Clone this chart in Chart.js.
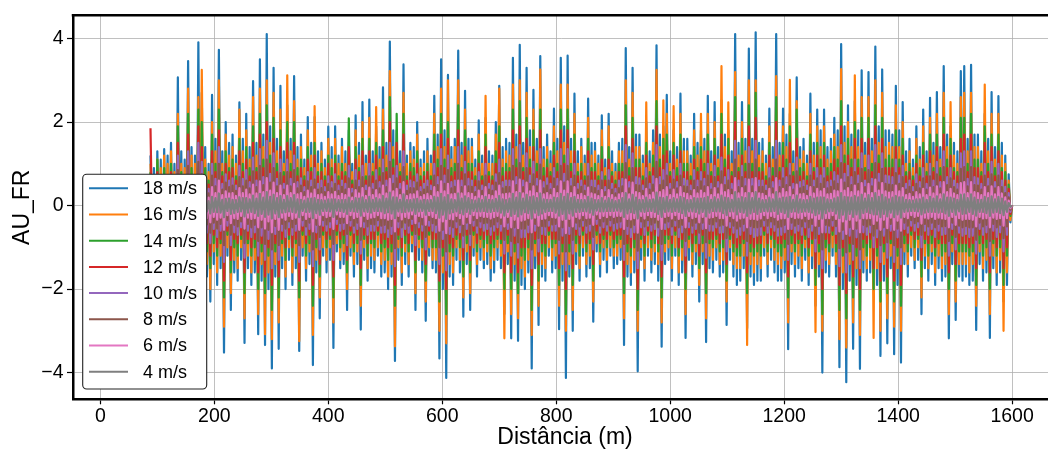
<!DOCTYPE html>
<html>
<head>
<meta charset="utf-8">
<script src="https://cdn.jsdelivr.net/npm/chart.js@4.4.1/dist/chart.umd.min.js"></script>
<style>
  html, body { margin: 0; padding: 0; background: #fff; overflow: hidden; }
  #wrap { width: 1048px; height: 454px; position: relative; }
</style>
</head>
<body>
<div id="wrap"><canvas id="chart" width="1048" height="454"></canvas></div>
<script>
// Sampling grid along the track (m): first sample and spacing
const DIST_START_M = 88;
const DIST_STEP_M = 3;

const SPEED_LABELS = ['18 m/s', '16 m/s', '14 m/s', '12 m/s', '10 m/s', '8 m/s', '6 m/s', '4 m/s'];
const SPEED_COLORS = ['#1f77b4', '#ff7f0e', '#2ca02c', '#d62728', '#9467bd', '#8c564b', '#e377c2', '#7f7f7f'];

const X_TICKS = [0, 200, 400, 600, 800, 1000, 1200, 1400, 1600];
const Y_TICKS = [-4, -2, 0, 2, 4];

// AU_FR response per speed, one value per sample
const AU_18 = [
1.2,-1.1,0.9,-1.4,1.3,-1.2,1.1,-1.6,1.35,-1.0,1.2,-1.5,1.5,-1.3,1.0,-1.7,3.07,-1.4,1.3,-1.8,
1.1,-1.6,3.46,-1.2,1.4,-1.5,1.2,-1.9,3.91,-1.6,2.7,-1.3,1.4,-1.7,1.0,-2.3,2.65,-1.4,1.6,-1.9,
3.73,-1.5,1.3,-3.52,2.0,-1.2,1.5,-2.5,1.7,-1.6,1.2,-1.8,2.47,-1.3,1.6,-3.29,2.2,-1.5,1.4,-1.9,
2.98,-1.6,1.5,-3.08,3.5,-1.8,1.7,-3.34,4.11,-2.0,1.9,-3.9,3.3,-1.7,1.6,-3.43,2.87,-1.5,1.3,-2.0,
2.4,-1.3,1.6,-1.9,3.1,-1.5,1.4,-3.48,1.7,-1.2,1.1,-1.8,2.12,-1.4,1.5,-3.82,2.12,-1.6,1.3,-2.7,
1.5,-1.2,1.1,-1.6,1.89,-1.3,1.4,-3.41,1.9,-1.1,1.2,-1.5,1.6,-1.4,1.3,-2.5,1.8,-1.2,1.0,-1.7,
2.16,-1.4,1.5,-2.97,2.48,-1.3,1.2,-1.8,2.54,-1.5,1.3,-1.6,1.9,-1.2,1.4,-1.7,2.83,-1.6,1.5,-2.0,
3.93,-1.7,1.8,-3.72,1.8,-1.3,1.3,-1.9,3.38,-1.4,1.2,-1.7,1.5,-1.1,1.4,-2.5,2.0,-1.3,1.1,-1.6,
1.3,-2.76,1.6,-1.2,1.2,-1.5,2.63,-1.6,1.7,-3.66,3.5,-2.0,1.8,-4.13,3.13,-1.7,1.4,-1.9,1.6,-1.3,
3.71,-1.6,1.5,-2.66,2.75,-1.4,1.6,-2.5,1.6,-1.2,1.1,-1.7,2.04,-1.3,1.2,-1.5,2.1,-1.4,1.3,-1.8,
1.2,-1.6,2.0,-1.3,2.87,-1.5,1.4,-2.6,1.6,-1.4,1.5,-3.18,3.54,-1.8,1.7,-3.24,3.85,-1.9,1.5,-2.0,
3.3,-1.6,1.8,-3.9,2.77,-1.5,1.6,-2.86,3.58,-1.7,1.4,-1.8,1.7,-1.2,1.3,-1.6,2.32,-1.5,1.6,-2.96,
3.54,-1.8,1.9,-4.13,3.59,-1.7,1.6,-3.0,2.68,-1.4,1.3,-1.8,1.6,-1.2,1.2,-1.7,2.56,-1.5,1.5,-2.78,
1.5,-1.1,1.2,-1.7,2.16,-1.3,1.1,-1.6,2.2,-1.2,1.3,-1.5,1.0,-1.4,1.5,-1.3,1.6,-3.34,3.77,-1.7,
1.4,-1.9,3.3,-1.6,1.7,-3.97,1.7,-1.3,1.2,-1.8,2.0,-1.2,1.3,-1.6,1.8,-1.4,3.84,-1.8,1.7,-3.38,
1.9,-1.4,2.65,-1.3,1.3,-1.8,1.8,-1.2,1.4,-1.9,2.68,-1.6,1.6,-3.17,1.6,-1.3,1.2,-1.7,2.2,-1.4,
1.5,-2.3,1.8,-1.4,1.6,-3.27,2.63,-1.5,1.3,-1.6,2.48,-1.3,1.4,-1.7,2.52,-1.6,1.7,-2.86,1.8,-1.3,
1.3,-1.7,4.11,-1.9,1.5,-1.8,2.48,-1.5,1.6,-2.94,3.76,-1.7,1.6,-1.9,4.15,-1.8,1.5,-1.8,1.6,-1.2,
1.2,-1.7,2.32,-1.3,1.4,-1.6,4.11,-1.8,1.5,-1.8,2.32,-1.6,1.7,-3.44,2.2,-1.4,1.3,-1.7,3.07,-1.5,
1.4,-1.8,1.6,-1.3,1.2,-1.9,2.68,-1.5,1.5,-2.4,2.3,-1.7,1.8,-4.0,2.3,-1.6,1.4,-1.7,1.6,-1.2,
2.1,-1.7,1.8,-3.87,3.87,-2.0,1.9,-4.23,2.4,-1.8,1.7,-3.43,2.5,-1.9,1.8,-3.91,3.24,-1.6,1.5,-1.8,
3.2,-1.6,1.6,-1.9,3.81,-1.9,1.9,-3.6,3.26,-1.8,1.8,-3.3,1.8,-1.5,1.7,-3.56,2.87,-1.9,1.8,-3.76,
2.48,-1.4,1.3,-1.7,1.6,-1.2,1.1,-1.5,1.9,-1.3,1.4,-2.6,2.3,-1.5,1.3,-1.8,2.58,-1.4,1.5,-1.9,
2.72,-1.5,1.4,-1.8,3.34,-1.7,1.7,-3.18,1.9,-1.4,1.5,-2.74,1.3,-1.7,3.22,-1.8,3.34,-1.7,1.6,-1.9,
3.37,-1.8,1.7,-2.98,1.7,-1.4,1.3,-1.8,2.2,-1.6,1.6,-3.17,2.72,-1.5,1.4,-1.9,2.62,-1.6,1.5,-2.3,
1.2,-1.9,0.75,-0.4,0
];

const AU_16 = [
1.0,-0.9,0.7,-1.2,1.1,-1.0,0.9,-1.3,1.2,-0.8,1.0,-1.2,1.3,-1.0,0.8,-1.4,2.2,-1.1,1.0,-1.5,
0.9,-1.3,2.8,-1.0,1.2,-1.2,1.0,-1.5,2.6,-1.3,3.25,-1.0,1.1,-1.4,0.8,-2.0,2.0,-1.1,1.3,-1.6,
3.0,-1.2,1.0,-2.9,1.7,-1.0,1.2,-2.1,1.4,-1.3,1.0,-1.5,2.3,-1.0,1.3,-2.7,1.8,-1.2,1.1,-1.6,
2.6,-1.3,1.2,-2.6,2.8,-1.4,1.4,-3.08,3.0,-1.6,1.5,-3.2,2.7,-1.4,1.3,-2.8,2.3,-1.2,1.0,-1.7,
3.12,-1.0,1.3,-1.6,2.5,-1.2,1.1,-3.25,1.4,-1.0,0.9,-1.5,1.8,-1.1,1.2,-3.1,2.38,-1.3,1.0,-2.2,
1.3,-1.0,0.9,-1.3,1.6,-1.0,1.1,-2.8,1.6,-0.9,1.0,-1.3,1.4,-1.1,1.0,-2.0,1.5,-1.0,0.8,-1.4,
1.8,-1.1,1.2,-2.4,2.0,-1.0,1.0,-1.5,2.1,-1.2,1.0,-1.3,2.36,-1.0,1.1,-1.4,2.3,-1.3,1.2,-1.7,
3.22,-1.4,1.4,-3.37,1.5,-1.0,1.0,-1.6,2.7,-1.1,1.0,-1.4,1.3,-0.9,1.1,-2.1,1.7,-1.0,0.9,-1.3,
1.0,-2.3,1.3,-1.0,1.0,-1.3,2.2,-1.3,1.4,-3.0,2.8,-1.6,1.4,-3.3,3.0,-1.4,1.1,-1.6,1.4,-1.0,
3.0,-1.3,1.2,-2.2,2.3,-1.1,1.3,-2.1,1.4,-1.0,0.9,-1.4,1.7,-1.0,1.0,-1.3,2.63,-1.1,1.0,-1.5,
1.0,-1.3,1.7,-1.0,2.8,-1.2,1.1,-3.18,1.3,-1.1,1.2,-2.6,2.9,-1.4,1.4,-2.7,3.0,-1.5,1.2,-1.7,
2.7,-1.3,1.4,-3.1,2.3,-1.2,1.3,-2.4,3.26,-1.4,1.1,-1.5,1.4,-1.0,1.0,-1.3,1.9,-1.2,1.3,-2.4,
2.9,-1.4,1.5,-3.0,2.9,-1.4,1.3,-2.5,2.2,-1.1,1.0,-1.5,1.4,-1.0,1.0,-1.4,2.1,-1.2,1.2,-2.3,
1.3,-0.9,1.0,-1.4,1.8,-1.0,0.9,-1.3,1.9,-1.0,1.0,-1.2,0.8,-1.2,1.3,-1.0,1.3,-2.7,3.0,-1.4,
1.1,-1.6,2.7,-1.3,1.4,-3.0,1.4,-1.0,1.0,-1.5,2.47,-1.0,1.0,-1.3,1.5,-1.1,3.25,-1.4,1.4,-2.8,
2.52,-1.1,2.2,-1.0,1.0,-1.5,2.38,-1.0,1.1,-1.6,2.2,-1.3,1.3,-2.6,1.3,-1.0,1.0,-1.4,1.8,-1.1,
1.2,-1.9,2.2,-1.1,1.3,-2.7,2.2,-1.2,1.0,-1.3,2.0,-1.0,1.1,-1.4,3.34,-1.3,1.4,-2.3,2.47,-1.0,
1.0,-1.4,3.2,-1.5,1.2,-1.5,2.0,-1.2,1.3,-3.34,3.0,-1.4,1.3,-1.6,3.0,-1.4,1.2,-1.5,1.3,-1.0,
1.0,-1.4,1.9,-1.0,1.1,-1.3,3.1,-1.4,1.2,-1.5,1.9,-1.3,1.4,-2.8,3.01,-1.1,1.0,-1.4,2.5,-1.2,
1.1,-1.5,1.3,-1.0,1.0,-1.6,2.2,-1.2,1.2,-3.03,1.9,-1.4,1.4,-3.0,1.9,-1.3,1.1,-1.4,1.3,-1.0,
1.7,-1.4,1.4,-3.2,3.27,-1.6,1.5,-3.4,2.0,-1.4,1.4,-2.8,3.12,-1.5,1.4,-3.1,2.6,-1.3,1.2,-1.5,
2.6,-1.3,1.3,-3.17,3.0,-1.5,1.5,-3.0,2.7,-1.4,1.4,-2.7,1.5,-1.2,1.4,-2.9,2.4,-1.5,1.4,-3.0,
2.0,-1.1,1.0,-1.4,1.3,-1.0,0.9,-1.3,1.6,-1.0,1.1,-2.2,1.9,-1.2,1.0,-1.5,2.1,-1.1,1.2,-1.6,
2.2,-1.2,1.1,-1.5,2.7,-1.4,1.4,-2.6,2.48,-1.1,1.2,-2.3,1.0,-1.4,2.6,-1.4,2.7,-1.4,1.3,-1.6,
2.7,-1.4,1.4,-2.4,1.4,-1.1,1.0,-1.5,2.9,-1.3,1.3,-2.6,2.2,-1.2,1.1,-1.6,2.2,-1.3,1.2,-3.0,
1.0,-1.6,0.6,-0.35,0
];

const AU_14 = [
0.8,-0.7,0.6,-0.9,1.1,-0.7,0.7,-1.0,0.9,-0.6,0.7,-1.0,1.0,-0.8,0.6,-1.1,1.9,-0.9,0.8,-1.2,
0.7,-1.0,2.2,-0.7,0.9,-0.9,0.7,-1.2,2.3,-1.0,2.0,-0.8,0.9,-1.1,0.6,-1.5,1.7,-0.9,1.0,-1.2,
2.3,-0.9,0.8,-2.2,1.3,-0.7,0.9,-1.6,1.1,-1.0,0.7,-1.2,1.6,-0.8,1.0,-2.1,1.4,-0.9,0.9,-1.2,
1.9,-1.0,0.9,-2.0,2.2,-1.1,1.1,-2.1,2.4,-1.2,1.2,-2.5,2.1,-1.1,1.0,-2.2,1.8,-0.9,0.8,-1.3,
2.0,-0.8,1.0,-1.2,2.0,-0.9,0.9,-2.2,1.1,-0.7,0.7,-1.2,1.4,-0.9,0.9,-2.4,1.5,-1.0,0.8,-1.7,
1.0,-0.7,0.7,-1.0,1.2,-0.8,0.9,-2.2,1.2,-0.7,0.7,-1.0,1.0,-0.9,0.8,-1.6,2.09,-0.7,0.6,-1.1,
1.4,-0.9,0.9,-1.9,1.6,-0.8,0.7,-1.2,1.6,-0.9,0.8,-1.0,1.5,-0.7,0.9,-1.1,1.8,-1.0,0.9,-1.3,
2.6,-1.1,1.1,-2.4,2.2,-0.8,0.8,-1.2,2.2,-0.9,0.7,-1.1,1.0,-0.7,0.9,-1.6,1.3,-0.8,0.7,-1.0,
0.8,-1.8,1.0,-0.7,0.7,-1.0,1.7,-1.0,1.1,-2.3,2.2,-1.2,1.1,-2.6,2.0,-1.1,0.9,-1.2,1.0,-0.8,
2.4,-1.0,0.9,-1.7,1.8,-0.9,1.0,-1.6,1.0,-0.7,0.7,-1.1,1.3,-0.8,0.7,-1.0,1.7,-0.9,0.8,-1.2,
0.7,-1.0,1.3,-0.8,1.9,-0.9,0.9,-2.0,1.0,-0.9,0.9,-2.0,2.3,-1.1,1.1,-2.1,2.5,-1.2,0.9,-1.3,
2.1,-1.0,1.1,-2.5,1.8,-0.9,1.0,-1.8,2.3,-1.1,0.9,-1.2,1.1,-0.7,0.8,-1.0,1.5,-0.9,1.0,-1.9,
2.3,-1.1,1.2,-2.6,2.3,-1.1,1.0,-1.9,1.7,-0.9,0.8,-1.2,1.0,-0.7,0.7,-1.1,1.6,-0.9,0.9,-1.8,
1.0,-0.7,0.7,-1.1,1.4,-0.8,0.7,-1.0,1.4,-0.7,0.8,-1.0,0.6,-0.9,1.0,-0.8,1.0,-2.1,2.4,-1.1,
0.9,-1.2,2.1,-1.0,1.1,-2.5,1.1,-0.8,0.7,-1.2,1.5,-0.7,0.8,-1.0,1.2,-0.9,2.5,-1.1,1.1,-2.2,
1.6,-0.9,1.7,-0.8,0.8,-1.2,1.5,-0.7,0.9,-1.2,1.7,-1.0,1.0,-2.0,1.0,-0.8,0.7,-1.1,1.4,-0.9,
0.9,-1.5,1.4,-0.9,1.0,-2.1,1.7,-0.9,0.8,-1.0,1.6,-0.8,0.9,-1.1,2.2,-1.0,1.1,-1.8,1.6,-0.8,
0.8,-1.1,2.6,-1.2,0.9,-1.2,1.6,-0.9,1.0,-2.1,2.4,-1.1,1.0,-1.2,2.7,-1.1,0.9,-1.2,1.0,-0.7,
0.7,-1.1,1.5,-0.8,0.9,-1.0,2.6,-1.1,0.9,-1.2,1.5,-1.0,1.1,-2.2,1.9,-0.9,0.8,-1.1,2.3,-0.9,
0.9,-1.2,1.0,-0.8,0.7,-1.2,1.7,-0.9,0.9,-1.9,1.5,-1.1,1.1,-2.6,1.5,-1.0,0.9,-1.1,1.0,-0.7,
1.4,-1.1,1.1,-2.5,2.5,-1.2,1.2,-2.7,1.6,-1.1,1.1,-2.2,2.0,-1.2,1.1,-2.5,2.1,-1.0,0.9,-1.2,
2.1,-1.0,1.0,-2.0,2.4,-1.2,1.2,-2.3,2.1,-1.1,1.1,-2.1,1.2,-0.9,1.1,-2.3,1.8,-1.2,1.1,-2.4,
1.6,-0.9,0.8,-1.1,1.0,-0.7,0.7,-1.0,1.2,-0.8,0.9,-1.7,1.5,-0.9,0.8,-1.2,1.7,-0.9,0.9,-1.2,
1.7,-0.9,0.9,-1.2,2.1,-1.1,1.1,-2.0,1.6,-0.9,0.9,-1.8,0.8,-1.1,2.1,-1.1,2.1,-1.1,1.0,-1.2,
2.2,-1.1,1.1,-1.9,1.1,-0.9,0.8,-1.2,1.9,-1.0,1.0,-2.0,1.7,-0.9,0.9,-1.2,1.7,-1.0,0.9,-1.9,
0.8,-1.2,0.5,-0.25,0
];

const AU_12 = [
1.85,-0.6,0.5,-0.7,0.8,-0.6,0.6,-0.8,0.7,-0.5,0.6,-0.8,0.8,-0.7,0.5,-0.9,1.5,-0.7,0.7,-0.9,
0.6,-0.8,1.7,-0.6,0.7,-0.8,0.6,-1.0,1.9,-0.8,1.4,-0.7,0.7,-0.9,0.5,-1.2,1.3,-0.7,0.8,-1.0,
1.8,-0.8,0.7,-1.8,1.0,-0.6,0.8,-1.3,0.9,-0.8,0.6,-0.9,1.3,-0.7,0.8,-1.6,1.1,-0.8,0.7,-1.0,
1.5,-0.8,0.8,-1.6,1.7,-0.9,0.9,-1.7,2.0,-1.0,1.0,-1.9,1.6,-0.9,0.8,-1.7,1.4,-0.8,0.7,-1.0,
1.5,-0.7,0.8,-1.0,1.5,-0.8,0.7,-1.8,0.9,-0.6,0.6,-0.9,1.1,-0.7,0.8,-1.9,1.2,-0.8,0.7,-1.4,
0.8,-0.6,0.6,-0.8,1.0,-0.7,0.7,-1.7,1.0,-0.6,0.6,-0.8,0.8,-0.7,0.7,-1.3,1.4,-0.6,0.5,-0.9,
1.1,-0.7,0.8,-1.5,1.3,-0.7,0.6,-0.9,1.3,-0.8,0.7,-0.8,1.2,-0.6,0.7,-0.9,1.4,-0.8,0.8,-1.0,
2.0,-0.9,0.9,-1.9,1.5,-0.7,0.7,-1.0,1.7,-0.7,0.6,-0.9,0.8,-0.6,0.7,-1.3,1.0,-0.7,0.6,-0.8,
0.7,-1.4,0.8,-0.6,0.6,-0.8,1.3,-0.8,0.9,-1.8,1.7,-1.0,0.9,-2.0,1.6,-0.9,0.7,-1.0,0.8,-0.7,
1.8,-0.8,0.8,-1.3,1.4,-0.7,0.8,-1.3,0.8,-0.6,0.6,-0.9,1.0,-0.7,0.6,-0.8,1.4,-0.7,0.7,-0.9,
0.6,-0.8,1.0,-0.7,1.5,-0.8,0.7,-1.6,0.8,-0.7,0.8,-1.6,1.8,-0.9,0.9,-1.6,1.9,-1.0,0.8,-1.0,
1.6,-0.8,0.9,-1.9,1.4,-0.8,0.8,-1.4,1.8,-0.9,0.7,-0.9,0.9,-0.6,0.7,-0.8,1.2,-0.8,0.8,-1.5,
1.8,-0.9,1.0,-2.0,1.8,-0.9,0.8,-1.5,1.3,-0.7,0.7,-0.9,0.8,-0.6,0.6,-0.9,1.3,-0.8,0.8,-1.4,
0.8,-0.6,0.6,-0.9,1.1,-0.7,0.6,-0.8,1.1,-0.6,0.7,-0.8,0.5,-0.7,0.8,-0.7,0.8,-1.7,1.9,-0.9,
0.7,-1.0,1.6,-0.8,0.9,-2.0,0.9,-0.7,0.6,-0.9,1.2,-0.6,0.7,-0.8,0.9,-0.7,1.9,-0.9,0.9,-1.7,
1.2,-0.7,1.3,-0.7,0.7,-0.9,1.2,-0.6,0.7,-1.0,1.3,-0.8,0.8,-1.6,0.8,-0.7,0.6,-0.9,1.1,-0.7,
0.8,-1.2,1.1,-0.7,0.8,-1.6,1.3,-0.8,0.7,-0.8,1.2,-0.7,0.7,-0.9,1.7,-0.8,0.9,-1.4,1.2,-0.7,
0.7,-0.9,2.0,-1.0,0.8,-0.9,1.2,-0.8,0.8,-1.6,1.9,-0.9,0.8,-1.0,2.1,-0.9,0.8,-0.9,0.8,-0.6,
0.6,-0.9,1.2,-0.7,0.7,-0.8,2.0,-0.9,0.8,-0.9,1.2,-0.8,0.9,-1.7,1.5,-0.7,0.7,-0.9,1.6,-0.8,
0.7,-0.9,0.8,-0.7,0.6,-1.0,1.3,-0.8,0.8,-1.5,1.2,-0.9,0.9,-2.0,1.2,-0.8,0.7,-0.9,0.8,-0.6,
1.1,-0.9,0.9,-1.9,1.9,-1.0,1.0,-2.1,1.2,-0.9,0.9,-1.7,1.6,-1.0,0.9,-2.0,1.6,-0.8,0.8,-0.9,
1.6,-0.8,0.8,-1.5,1.9,-1.0,1.0,-1.8,1.6,-0.9,0.9,-1.7,0.9,-0.8,0.9,-1.8,1.4,-1.0,0.9,-1.9,
1.2,-0.7,0.7,-0.9,0.8,-0.6,0.6,-0.8,1.0,-0.7,0.7,-1.3,1.2,-0.8,0.7,-0.9,1.3,-0.7,0.8,-1.0,
1.4,-0.8,0.7,-0.9,1.7,-0.9,0.9,-1.6,1.2,-0.7,0.8,-1.4,0.7,-0.9,1.6,-0.9,1.7,-0.9,0.8,-1.0,
1.7,-0.9,0.9,-1.5,0.9,-0.7,0.7,-0.9,1.5,-0.8,0.8,-1.6,1.4,-0.8,0.7,-1.0,1.3,-0.8,0.8,-1.5,
0.6,-1.0,0.4,-0.2,0
];

const AU_10 = [
.7,-.44,.36,-.6,.6,-.48,.44,-.6,.55,-.4,.48,-.6,.6,-.52,.4,-.7,1.2,-.56,.52,-.7,
.44,-.6,1.3,-.48,.55,-.6,.48,-.75,1.5,-.64,1.05,-.52,.56,-.65,.4,-.9,1.0,-.56,.64,-.75,
1.4,-.6,.52,-1.35,.75,-.48,.6,-.95,.65,-.64,.48,-.7,.95,-.52,.64,-1.25,.85,-.6,.56,-.75,
1.15,-.64,.6,-1.2,1.35,-.72,.68,-1.3,1.55,-.8,.76,-1.5,1.25,-.68,.64,-1.3,1.1,-.6,.52,-.75,
1.1,-.52,.64,-.7,1.2,-.6,.56,-1.35,.65,-.48,.44,-.7,.8,-.56,.6,-1.45,.9,-.64,.52,-1.05,
.6,-.48,.44,-.6,.7,-.52,.56,-1.3,.75,-.44,.48,-.6,.6,-.56,.52,-.95,.95,-.48,.4,-.65,
.85,-.56,.6,-1.15,.95,-.52,.48,-.7,1.0,-.6,.52,-.6,.85,-.48,.56,-.65,1.1,-.64,.6,-.75,
1.5,-.68,.72,-1.45,.95,-.52,.52,-.75,1.3,-.56,.48,-.65,.6,-.44,.56,-.95,.75,-.52,.44,-.6,
.52,-1.05,.6,-.48,.48,-.6,1.0,-.64,.68,-1.4,1.35,-.8,.72,-1.55,1.2,-.68,.56,-.75,.6,-.52,
1.4,-.64,.6,-1.0,1.05,-.56,.64,-.95,.6,-.48,.44,-.65,.8,-.52,.48,-.6,1.0,-.56,.52,-.7,
.48,-.6,.75,-.52,1.1,-.6,.56,-1.15,.6,-.56,.6,-1.2,1.35,-.72,.68,-1.25,1.45,-.76,.6,-.75,
1.25,-.64,.72,-1.5,1.05,-.6,.64,-1.1,1.35,-.68,.56,-.7,.65,-.48,.52,-.6,.9,-.6,.64,-1.15,
1.35,-.72,.76,-1.55,1.35,-.68,.64,-1.15,1.0,-.56,.52,-.7,.6,-.48,.48,-.65,1.0,-.6,.6,-1.05,
.6,-.44,.48,-.65,.8,-.52,.44,-.6,.85,-.48,.52,-.6,.4,-.55,.6,-.52,.64,-1.3,1.45,-.68,
.56,-.75,1.25,-.64,.68,-1.5,.65,-.52,.48,-.7,.9,-.48,.52,-.6,.7,-.56,1.45,-.72,.68,-1.3,
.85,-.56,1.0,-.52,.52,-.7,.85,-.48,.56,-.75,1.0,-.64,.64,-1.2,.6,-.52,.48,-.65,.85,-.56,
.6,-.9,.8,-.56,.64,-1.25,1.0,-.6,.52,-.6,.95,-.52,.56,-.65,1.15,-.64,.68,-1.1,.85,-.52,
.52,-.65,1.55,-.76,.6,-.7,.95,-.6,.64,-1.2,1.4,-.68,.64,-.75,1.55,-.72,.6,-.7,.6,-.48,
.48,-.65,.9,-.52,.56,-.6,1.55,-.72,.6,-.7,.9,-.64,.68,-1.3,1.0,-.56,.52,-.65,1.15,-.6,
.56,-.7,.6,-.52,.48,-.75,1.0,-.6,.6,-1.1,.9,-.68,.72,-1.5,.9,-.64,.56,-.65,.6,-.48,
.8,-.68,.72,-1.45,1.45,-.8,.76,-1.6,.95,-.72,.68,-1.3,1.1,-.76,.72,-1.5,1.25,-.64,.6,-.7,
1.2,-.64,.64,-1.0,1.45,-.76,.76,-1.35,1.25,-.72,.72,-1.25,.7,-.6,.68,-1.35,1.1,-.76,.72,-1.4,
.95,-.56,.52,-.65,.6,-.48,.44,-.6,.75,-.52,.56,-1.0,.9,-.6,.52,-.7,1.0,-.56,.6,-.75,
1.05,-.6,.56,-.7,1.3,-.68,.68,-1.2,.9,-.56,.6,-1.05,.52,-.65,1.25,-.72,1.3,-.68,.64,-.75,
1.3,-.72,.68,-1.15,.65,-.56,.52,-.7,1.0,-.64,.64,-1.2,1.05,-.6,.56,-.75,1.0,-.64,.6,-1.1,
.45,-.7,.3,-.15,0
];

const AU_8 = [
.5,-.32,.26,-.45,.45,-.35,.32,-.45,.4,-.29,.35,-.45,.45,-.38,.29,-.5,.85,-.41,.38,-.5,
.32,-.45,.95,-.35,.4,-.44,.35,-.55,1.05,-.46,.75,-.38,.41,-.45,.29,-.65,.72,-.41,.46,-.55,
1.0,-.44,.38,-.95,.55,-.35,.44,-.7,.48,-.46,.35,-.5,.68,-.38,.46,-.9,.6,-.44,.41,-.52,
.82,-.46,.44,-.85,.95,-.52,.49,-.92,1.1,-.58,.55,-1.05,.9,-.49,.46,-.95,.78,-.44,.38,-.55,
.8,-.38,.46,-.52,.85,-.44,.41,-.95,.48,-.35,.32,-.5,.58,-.41,.44,-1.05,.62,-.46,.38,-.75,
.42,-.35,.32,-.45,.52,-.38,.41,-.92,.52,-.32,.35,-.42,.45,-.41,.38,-.68,.65,-.35,.29,-.48,
.6,-.41,.44,-.82,.68,-.38,.35,-.5,.7,-.44,.38,-.45,.6,-.35,.41,-.48,.78,-.46,.44,-.55,
1.05,-.49,.52,-1.02,.65,-.38,.38,-.52,.92,-.41,.35,-.48,.42,-.32,.41,-.68,.55,-.38,.32,-.45,
.38,-.75,.45,-.35,.35,-.42,.72,-.46,.49,-1.0,.95,-.58,.52,-1.1,.85,-.49,.41,-.52,.45,-.38,
1.0,-.46,.44,-.72,.75,-.41,.46,-.68,.45,-.35,.32,-.48,.58,-.38,.35,-.42,.72,-.41,.38,-.5,
.35,-.45,.55,-.38,.78,-.44,.41,-.82,.45,-.41,.44,-.85,.95,-.52,.49,-.88,1.02,-.55,.44,-.55,
.9,-.46,.52,-1.05,.75,-.44,.46,-.78,.98,-.49,.41,-.5,.48,-.35,.38,-.45,.65,-.44,.46,-.82,
.95,-.52,.55,-1.1,.95,-.49,.46,-.82,.72,-.41,.38,-.5,.45,-.35,.35,-.48,.7,-.44,.44,-.75,
.42,-.32,.35,-.48,.6,-.38,.32,-.45,.6,-.35,.38,-.42,.29,-.4,.42,-.38,.46,-.92,1.02,-.49,
.41,-.52,.9,-.46,.49,-1.08,.48,-.38,.35,-.5,.65,-.35,.38,-.45,.5,-.41,1.05,-.52,.49,-.92,
.6,-.41,.72,-.38,.38,-.5,.62,-.35,.41,-.52,.72,-.46,.46,-.85,.45,-.38,.35,-.48,.6,-.41,
.44,-.65,.58,-.41,.46,-.88,.72,-.44,.38,-.45,.68,-.38,.41,-.48,.82,-.46,.49,-.78,.6,-.38,
.38,-.48,1.1,-.55,.44,-.5,.68,-.44,.46,-.85,1.0,-.49,.46,-.52,1.1,-.52,.44,-.5,.45,-.35,
.35,-.48,.65,-.38,.41,-.45,1.1,-.52,.44,-.5,.65,-.46,.49,-.92,.72,-.41,.38,-.48,.82,-.44,
.41,-.5,.45,-.38,.35,-.52,.72,-.44,.44,-.78,.65,-.49,.52,-1.05,.65,-.46,.41,-.48,.45,-.35,
.58,-.49,.52,-1.02,1.02,-.58,.55,-1.12,.68,-.52,.49,-.92,.8,-.55,.52,-1.05,.88,-.46,.44,-.5,
.85,-.46,.46,-.72,1.02,-.55,.55,-.95,.88,-.52,.52,-.88,.5,-.44,.49,-.95,.78,-.55,.52,-1.0,
.68,-.41,.38,-.48,.45,-.35,.32,-.42,.52,-.38,.41,-.7,.65,-.44,.38,-.5,.7,-.41,.44,-.52,
.75,-.44,.41,-.5,.92,-.49,.49,-.85,.65,-.41,.44,-.75,.38,-.48,.88,-.52,.92,-.49,.46,-.52,
.92,-.52,.49,-.82,.48,-.41,.38,-.5,.72,-.46,.46,-.85,.75,-.44,.41,-.52,.72,-.46,.44,-.78,
.3,-.5,.2,-.1,0
];

const AU_6 = [
.3,-.21,.17,-.28,.28,-.23,.21,-.3,.26,-.19,.23,-.28,.3,-.25,.19,-.32,.5,-.27,.25,-.32,
.21,-.3,.56,-.23,.26,-.29,.23,-.34,.62,-.3,.45,-.25,.27,-.3,.19,-.4,.44,-.27,.3,-.34,
.6,-.29,.25,-.58,.34,-.23,.29,-.42,.3,-.3,.23,-.32,.42,-.25,.3,-.55,.38,-.29,.27,-.32,
.5,-.3,.29,-.52,.58,-.34,.32,-.55,.66,-.38,.36,-.64,.55,-.32,.3,-.58,.48,-.29,.25,-.34,
.48,-.25,.3,-.32,.52,-.29,.27,-.58,.3,-.23,.21,-.32,.36,-.27,.29,-.62,.38,-.3,.25,-.46,
.27,-.23,.21,-.28,.32,-.25,.27,-.56,.33,-.21,.23,-.27,.28,-.27,.25,-.42,.4,-.23,.19,-.3,
.37,-.27,.29,-.5,.42,-.25,.23,-.32,.43,-.29,.25,-.28,.37,-.23,.27,-.3,.48,-.3,.29,-.34,
.64,-.32,.34,-.62,.4,-.25,.25,-.33,.56,-.27,.23,-.3,.27,-.21,.27,-.42,.34,-.25,.21,-.28,
.25,-.46,.28,-.23,.23,-.27,.44,-.3,.32,-.6,.58,-.38,.34,-.66,.52,-.32,.27,-.33,.28,-.25,
.6,-.3,.29,-.44,.46,-.27,.3,-.42,.28,-.23,.21,-.3,.36,-.25,.23,-.27,.44,-.27,.25,-.31,
.23,-.28,.34,-.25,.48,-.29,.27,-.5,.28,-.27,.29,-.52,.58,-.34,.32,-.54,.62,-.36,.29,-.34,
.55,-.3,.34,-.64,.46,-.29,.3,-.48,.6,-.32,.27,-.31,.3,-.23,.25,-.28,.4,-.29,.3,-.5,
.58,-.34,.36,-.66,.58,-.32,.3,-.5,.44,-.27,.25,-.31,.28,-.23,.23,-.3,.43,-.29,.29,-.46,
.27,-.21,.23,-.3,.37,-.25,.21,-.28,.37,-.23,.25,-.27,.19,-.25,.27,-.25,.3,-.56,.62,-.32,
.27,-.33,.55,-.3,.32,-.65,.3,-.25,.23,-.31,.4,-.23,.25,-.28,.31,-.27,.64,-.34,.32,-.56,
.37,-.27,.44,-.25,.25,-.31,.38,-.23,.27,-.32,.44,-.3,.3,-.52,.28,-.25,.23,-.3,.37,-.27,
.29,-.4,.36,-.27,.3,-.54,.44,-.29,.25,-.28,.42,-.25,.27,-.3,.5,-.3,.32,-.48,.37,-.25,
.25,-.3,.66,-.36,.29,-.31,.42,-.29,.3,-.52,.62,-.32,.3,-.32,.66,-.34,.29,-.31,.28,-.23,
.23,-.3,.4,-.25,.27,-.28,.66,-.34,.29,-.31,.4,-.3,.32,-.56,.44,-.27,.25,-.3,.5,-.29,
.27,-.31,.28,-.25,.23,-.32,.44,-.29,.29,-.48,.4,-.32,.34,-.64,.4,-.3,.27,-.3,.28,-.23,
.36,-.32,.34,-.62,.62,-.38,.36,-.68,.42,-.34,.32,-.56,.48,-.36,.34,-.64,.54,-.3,.29,-.31,
.52,-.3,.3,-.44,.62,-.36,.36,-.58,.54,-.34,.34,-.54,.31,-.29,.32,-.58,.48,-.36,.34,-.6,
.42,-.27,.25,-.3,.28,-.23,.21,-.27,.32,-.25,.27,-.43,.4,-.29,.25,-.31,.43,-.27,.29,-.32,
.46,-.29,.27,-.31,.56,-.32,.32,-.52,.4,-.27,.29,-.46,.25,-.3,.54,-.34,.56,-.32,.3,-.32,
.56,-.34,.32,-.5,.3,-.27,.25,-.31,.44,-.3,.3,-.52,.46,-.29,.27,-.32,.44,-.3,.29,-.48,
.2,-.3,.12,-.06,0
];

const AU_4 = [
.14,-.12,.1,-.13,.13,-.13,.12,-.14,.12,-.11,.13,-.13,.14,-.14,.11,-.15,.24,-.15,.14,-.15,
.12,-.14,.27,-.13,.12,-.17,.13,-.16,.3,-.18,.21,-.14,.15,-.14,.11,-.19,.21,-.15,.18,-.16,
.29,-.17,.14,-.28,.16,-.13,.17,-.2,.14,-.18,.13,-.15,.2,-.14,.18,-.26,.18,-.17,.15,-.15,
.24,-.18,.17,-.25,.28,-.2,.19,-.27,.32,-.22,.21,-.31,.26,-.19,.18,-.28,.23,-.17,.14,-.16,
.23,-.14,.18,-.15,.25,-.17,.15,-.28,.14,-.13,.12,-.15,.17,-.15,.17,-.3,.18,-.18,.14,-.22,
.13,-.13,.12,-.13,.15,-.14,.15,-.27,.15,-.12,.13,-.13,.13,-.15,.14,-.2,.19,-.13,.11,-.14,
.18,-.15,.17,-.24,.2,-.14,.13,-.15,.21,-.17,.14,-.13,.18,-.13,.15,-.14,.23,-.18,.17,-.16,
.31,-.19,.2,-.3,.19,-.14,.14,-.16,.27,-.15,.13,-.14,.13,-.12,.15,-.2,.16,-.14,.12,-.13,
.14,-.22,.13,-.13,.13,-.13,.21,-.18,.19,-.29,.28,-.22,.2,-.32,.25,-.19,.15,-.16,.13,-.14,
.29,-.18,.17,-.21,.22,-.15,.18,-.2,.13,-.13,.12,-.14,.17,-.14,.13,-.13,.21,-.15,.14,-.15,
.13,-.13,.16,-.14,.23,-.17,.15,-.24,.13,-.15,.17,-.25,.28,-.2,.19,-.26,.3,-.21,.17,-.16,
.26,-.18,.2,-.31,.22,-.17,.18,-.23,.29,-.19,.15,-.15,.14,-.13,.14,-.13,.19,-.17,.18,-.24,
.28,-.2,.21,-.32,.28,-.19,.18,-.24,.21,-.15,.14,-.15,.13,-.13,.13,-.14,.21,-.17,.17,-.22,
.13,-.12,.13,-.14,.18,-.14,.12,-.13,.18,-.13,.14,-.13,.11,-.12,.13,-.14,.18,-.27,.3,-.19,
.15,-.16,.26,-.18,.19,-.31,.14,-.14,.13,-.15,.19,-.13,.14,-.13,.15,-.15,.31,-.2,.19,-.27,
.18,-.15,.21,-.14,.14,-.15,.18,-.13,.15,-.15,.21,-.18,.18,-.25,.13,-.14,.13,-.14,.18,-.15,
.17,-.19,.17,-.15,.18,-.26,.21,-.17,.14,-.13,.2,-.14,.15,-.14,.24,-.18,.19,-.23,.18,-.14,
.14,-.14,.32,-.21,.17,-.15,.2,-.17,.18,-.25,.3,-.19,.18,-.15,.32,-.2,.17,-.15,.13,-.13,
.13,-.14,.19,-.14,.15,-.13,.32,-.2,.17,-.15,.19,-.18,.19,-.27,.21,-.15,.14,-.14,.24,-.17,
.15,-.15,.13,-.14,.13,-.15,.21,-.17,.17,-.23,.19,-.19,.2,-.31,.19,-.18,.15,-.14,.13,-.13,
.17,-.19,.2,-.3,.3,-.22,.21,-.33,.2,-.2,.19,-.27,.23,-.21,.2,-.31,.26,-.18,.17,-.15,
.25,-.18,.18,-.21,.3,-.21,.21,-.28,.26,-.2,.2,-.26,.15,-.17,.19,-.28,.23,-.21,.2,-.29,
.2,-.15,.14,-.14,.13,-.13,.12,-.13,.15,-.14,.15,-.21,.19,-.17,.14,-.15,.21,-.15,.17,-.15,
.22,-.17,.15,-.15,.27,-.19,.19,-.25,.19,-.15,.17,-.22,.14,-.14,.26,-.2,.27,-.19,.18,-.15,
.27,-.2,.19,-.24,.14,-.15,.14,-.15,.21,-.18,.18,-.25,.22,-.17,.15,-.15,.21,-.18,.17,-.23,
.1,-.15,.06,-.03,0
];

const SERIES = [AU_18, AU_16, AU_14, AU_12, AU_10, AU_8, AU_6, AU_4];
const DISTANCE = AU_18.map((_, i) => DIST_START_M + DIST_STEP_M * i);

const FONT = '"Liberation Sans", Arial, Helvetica, sans-serif';
const minusLabel = v => (v < 0 ? '\u2212' + Math.abs(v) : String(v));

// Frame top edge, axis titles and the boxed legend
const decorations = {
  id: 'decorations',
  afterDraw(chart) {
    const { ctx, chartArea: a } = chart;
    ctx.save();
    ctx.strokeStyle = '#000';
    ctx.lineWidth = 2.5;
    ctx.beginPath();
    ctx.moveTo(a.left - 1.25, a.top);
    ctx.lineTo(chart.width, a.top);
    ctx.stroke();

    ctx.fillStyle = '#000';
    ctx.font = '23px ' + FONT;
    ctx.textAlign = 'center';
    ctx.textBaseline = 'middle';
    ctx.fillText('Distância (m)', 565, 438);
    ctx.save();
    ctx.translate(23, (a.top + a.bottom) / 2);
    ctx.rotate(-Math.PI / 2);
    ctx.fillText('AU_FR', 0, 0);
    ctx.restore();

    const bx = 82.7, by = 174.3, bw = 124, bh = 214.7;
    ctx.beginPath();
    ctx.roundRect(bx, by, bw, bh, 4);
    ctx.fillStyle = '#fff';
    ctx.fill();
    ctx.lineWidth = 1.1;
    ctx.strokeStyle = '#222';
    ctx.stroke();

    ctx.font = '18px ' + FONT;
    ctx.textAlign = 'left';
    chart.data.datasets.forEach((ds, k) => {
      const cy = 188.3 + 26.2 * k;
      ctx.beginPath();
      ctx.moveTo(89, cy);
      ctx.lineTo(128, cy);
      ctx.strokeStyle = ds.borderColor;
      ctx.lineWidth = 2;
      ctx.stroke();
      ctx.fillStyle = '#000';
      ctx.fillText(ds.label, 143, cy + 1);
    });
    ctx.restore();
  }
};

const datasets = SERIES.map((vals, k) => ({
  label: SPEED_LABELS[k],
  data: vals.map((y, i) => ({ x: DISTANCE[i], y })),
  borderColor: SPEED_COLORS[k],
  backgroundColor: SPEED_COLORS[k],
  borderWidth: 2.2,
  borderJoinStyle: 'round',
  pointRadius: 0,
  tension: 0,
  fill: false,
  order: SERIES.length - 1 - k
}));

new Chart(document.getElementById('chart'), {
  type: 'line',
  data: { datasets },
  plugins: [decorations],
  options: {
    responsive: false,
    animation: false,
    parsing: false,
    normalized: true,
    events: [],
    layout: { padding: { top: 8.3, left: 0, right: 0, bottom: 0 } },
    plugins: { legend: { display: false }, tooltip: { enabled: false } },
    scales: {
      x: {
        type: 'linear',
        min: -48,
        max: 1663,
        afterBuildTicks: s => { s.ticks = X_TICKS.map(v => ({ value: v })); },
        afterFit: s => { s.height = 454 - 399.3; },
        grid: { color: '#b0b0b0', lineWidth: 0.8, tickColor: '#000', tickLength: 5, tickWidth: 1.2 },
        border: { color: '#000', width: 2.5 },
        ticks: { color: '#000', font: { family: FONT, size: 19.5 }, padding: 1, maxRotation: 0, autoSkip: false, callback: v => String(v) }
      },
      y: {
        min: -4.64,
        max: 4.56,
        afterBuildTicks: s => { s.ticks = Y_TICKS.map(v => ({ value: v })); },
        afterFit: s => { s.width = 73; },
        grid: { color: '#b0b0b0', lineWidth: 0.8, tickColor: '#000', tickLength: 6, tickWidth: 1.2 },
        border: { color: '#000', width: 2.5 },
        ticks: { color: '#000', font: { family: FONT, size: 19.5 }, padding: 3.5, callback: minusLabel, autoSkip: false }
      }
    }
  }
});
</script>
</body>
</html>
